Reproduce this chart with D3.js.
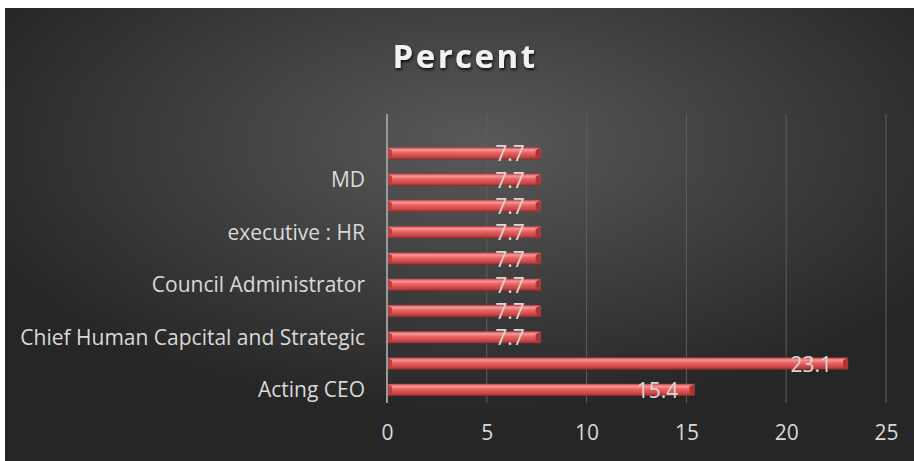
<!DOCTYPE html>
<html>
<head>
<meta charset="utf-8">
<script src="https://cdn.jsdelivr.net/npm/d3@7"></script>
<style>
  body { margin: 0; background: #fff; }
  svg { display: block; }
</style>
</head>
<body>
<div id="chart"></div>
<script>
// categories from bottom to top, top band is empty in the original
var categories = ["Acting CEO", "cat 2", "Chief Human Capcital and Strategic", "cat 4",
  "Council Administrator", "cat 6", "executive : HR", "cat 8", "MD", "cat 10", ""];
var shownLabels = ["Acting CEO", "Chief Human Capcital and Strategic", "Council Administrator",
  "executive : HR", "MD"];
var percent = [15.4, 23.1, 7.7, 7.7, 7.7, 7.7, 7.7, 7.7, 7.7, 7.7, null];
var xTicks = [0, 5, 10, 15, 20, 25];
var title = "Percent";

var W = 914, H = 461;
var plot = { left: 387, right: 886, top: 114, bottom: 403 };
var font = "Open Sans, sans-serif";

var svg = d3.select("#chart").append("svg")
  .attr("width", W).attr("height", H);

var defs = svg.append("defs");
var bg = defs.append("radialGradient").attr("id", "bg")
  .attr("cx", 0.52).attr("cy", 0.3).attr("r", 0.6);
bg.append("stop").attr("offset", "0%").attr("stop-color", "#595959");
bg.append("stop").attr("offset", "100%").attr("stop-color", "#262626");

var barGrad = defs.append("linearGradient").attr("id", "bar")
  .attr("x1", 0).attr("y1", 0).attr("x2", 0).attr("y2", 1);
barGrad.append("stop").attr("offset", "0%").attr("stop-color", "#c04040");
barGrad.append("stop").attr("offset", "20%").attr("stop-color", "#f89898");
barGrad.append("stop").attr("offset", "45%").attr("stop-color", "#ea6262");
barGrad.append("stop").attr("offset", "80%").attr("stop-color", "#c84444");
barGrad.append("stop").attr("offset", "100%").attr("stop-color", "#8a2a2a");

var shadow = defs.append("filter").attr("id", "tshadow");
shadow.append("feDropShadow").attr("dx", 1).attr("dy", 2).attr("stdDeviation", 1.5)
  .attr("flood-color", "#000").attr("flood-opacity", 0.8);

svg.append("rect").attr("x", 5).attr("y", 8).attr("width", W - 5).attr("height", H - 8)
  .attr("fill", "url(#bg)");

var x = d3.scaleLinear().domain([0, 25]).range([plot.left, plot.right]);
var y = d3.scaleBand().domain(categories).range([plot.bottom, plot.top])
  .paddingInner(0.54).paddingOuter(0.27);

// vertical gridlines
svg.append("g").selectAll("line").data(xTicks.slice(1)).join("line")
  .attr("x1", function (d) { return x(d); }).attr("x2", function (d) { return x(d); })
  .attr("y1", plot.top).attr("y2", plot.bottom)
  .attr("stroke", "#5e5e5e").attr("stroke-width", 1);

// bars
var bars = svg.append("g").selectAll("g").data(categories.map(function (c, i) {
  return { cat: c, v: percent[i] };
}).filter(function (d) { return d.v != null; })).join("g");

bars.append("rect")
  .attr("x", x(0)).attr("y", function (d) { return y(d.cat); })
  .attr("width", function (d) { return x(d.v) - x(0); })
  .attr("height", y.bandwidth())
  .attr("fill", "url(#bar)");
// bevel at bar end
bars.append("path")
  .attr("d", function (d) {
    var x1 = x(d.v), y0 = y(d.cat), h = y.bandwidth();
    return "M" + (x1 - 5) + "," + (y0 + 3) + "L" + x1 + "," + y0 + "L" + x1 + "," + (y0 + h) +
      "L" + (x1 - 5) + "," + (y0 + h - 3) + "Z";
  })
  .attr("fill", "#a83636");
bars.append("path")
  .attr("d", function (d) {
    var y0 = y(d.cat), h = y.bandwidth(), x0 = x(0);
    return "M" + x0 + "," + y0 + "L" + (x0 + 5) + "," + (y0 + 3) + "L" + (x0 + 5) + "," + (y0 + h - 3) +
      "L" + x0 + "," + (y0 + h) + "Z";
  })
  .attr("fill", "#b84040");

// data labels
bars.append("text")
  .attr("x", function (d) { return x(d.v) - 16; })
  .attr("y", function (d) { return y(d.cat) + y.bandwidth() / 2 + 8; })
  .attr("text-anchor", "end")
  .attr("font-family", font).attr("font-size", 21)
  .attr("fill", "#d9d9d9")
  .text(function (d) { return d.v.toFixed(1); });

// value axis line
svg.append("line").attr("x1", x(0)).attr("x2", x(0))
  .attr("y1", plot.top).attr("y2", plot.bottom)
  .attr("stroke", "#9a9a9a").attr("stroke-width", 2);

// category axis
var yAxis = svg.append("g").attr("transform", "translate(" + (plot.left - 22) + ",0)")
  .call(d3.axisLeft(y).tickValues(shownLabels).tickSize(0).tickPadding(0));
yAxis.select(".domain").remove();
yAxis.selectAll("text")
  .attr("font-family", font).attr("font-size", 21)
  .attr("fill", "#d9d9d9").attr("dy", "0.35em");

// x axis
var xAxis = svg.append("g").attr("transform", "translate(0," + plot.bottom + ")")
  .call(d3.axisBottom(x).tickValues(xTicks).tickSize(0).tickPadding(22));
xAxis.select(".domain").remove();
xAxis.selectAll("text")
  .attr("font-family", font).attr("font-size", 21)
  .attr("fill", "#d9d9d9");

// title
svg.append("text").attr("x", 465).attr("y", 68)
  .attr("text-anchor", "middle")
  .attr("font-family", font).attr("font-weight", "bold")
  .attr("font-size", 33).attr("letter-spacing", 2.5)
  .attr("fill", "#f2f2f2").attr("filter", "url(#tshadow)")
  .text(title);
</script>
</body>
</html>
